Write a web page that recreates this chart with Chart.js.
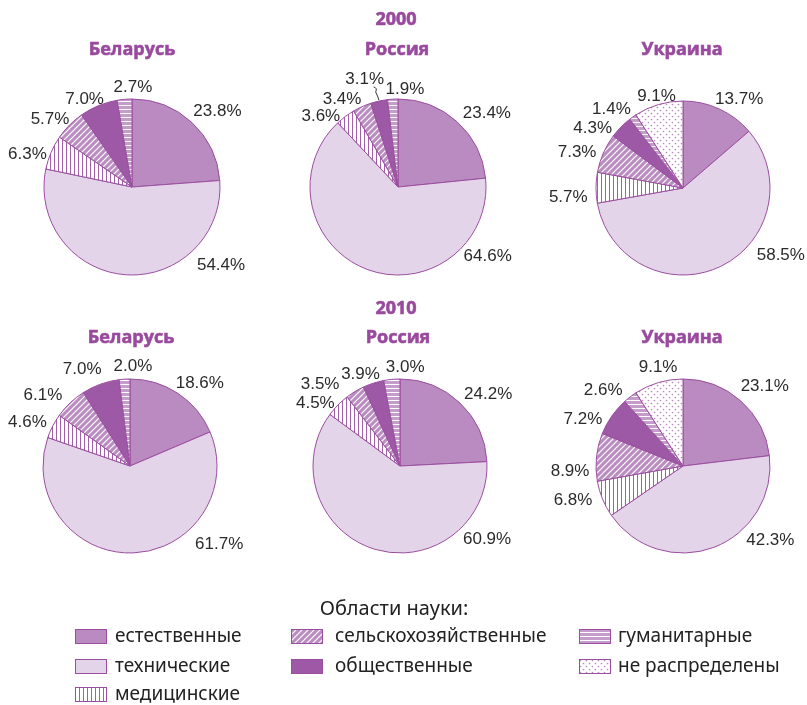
<!DOCTYPE html>
<html>
<head>
<meta charset="utf-8">
<script src="https://cdn.jsdelivr.net/npm/chart.js@4"></script>
<style>
  body { margin: 0; background: #fff; overflow: hidden; }
  #page { position: relative; width: 807px; height: 705px; }
  .box { position: absolute; }
  .ttl { position: absolute; transform: translate(-50%, -50%); font-family: "Open Sans", sans-serif; font-weight: 700; font-size: 18px; color: #9a4a9e; -webkit-text-stroke: 0.6px #9a4a9e; white-space: nowrap; }
  .leg { position: absolute; font-family: "Noto Sans", sans-serif; font-size: 19px; color: #222; white-space: nowrap; line-height: 1; }
  .sw { position: absolute; }
</style>
</head>
<body>
<div id="page"></div>
<script>
// Области науки
const categories = ['естественные', 'технические', 'медицинские', 'сельскохозяйственные', 'общественные', 'гуманитарные', 'не распределены'];
const years = ['2000', '2010'];
const countries = ['Беларусь', 'Россия', 'Украина'];

// доли, %
const belarus2000 = [23.8, 54.4, 6.3, 5.7, 7.0, 2.7];
const russia2000 = [23.4, 64.6, 3.6, 3.4, 3.1, 1.9];
const ukraine2000 = [13.7, 58.5, 5.7, 7.3, 4.3, 1.4, 9.1];
const belarus2010 = [18.6, 61.7, 4.6, 6.1, 7.0, 2.0];
const russia2010 = [24.2, 60.9, 4.5, 3.5, 3.9, 3.0];
const ukraine2010 = [23.1, 42.3, 6.8, 8.9, 7.2, 2.6, 9.1];

const purple = '#9b4da0';

function tile(w, h, draw) {
    const c = document.createElement('canvas');
    c.width = w; c.height = h;
    const g = c.getContext('2d');
    draw(g);
    return c;
}

const tiles = {
    vert: tile(4, 4, g => {
        g.fillStyle = '#fff'; g.fillRect(0, 0, 4, 4);
        g.fillStyle = '#a160a8'; g.fillRect(0, 0, 1, 4);
    }),
    diag: tile(6, 6, g => {
        g.fillStyle = '#bb8cc2'; g.fillRect(0, 0, 6, 6);
        g.strokeStyle = '#fff'; g.lineWidth = 1.2;
        g.beginPath();
        g.moveTo(-1, 7); g.lineTo(7, -1);
        g.moveTo(-4, 4); g.lineTo(4, -4);
        g.moveTo(2, 10); g.lineTo(10, 2);
        g.stroke();
    }),
    horiz: tile(4, 4, g => {
        g.fillStyle = '#fff'; g.fillRect(0, 0, 4, 4);
        g.fillStyle = '#c49dca'; g.fillRect(0, 0, 4, 3);
    }),
    dots: tile(6, 6, g => {
        g.fillStyle = '#fff'; g.fillRect(0, 0, 6, 6);
        g.fillStyle = '#bb88c1';
        g.beginPath(); g.arc(1.5, 1.5, 0.85, 0, Math.PI * 2); g.fill();
        g.beginPath(); g.arc(4.5, 4.5, 0.85, 0, Math.PI * 2); g.fill();
    })
};

function fills(ctx) {
    return [
        '#b98bc0',
        '#e4d4e9',
        ctx.createPattern(tiles.vert, 'repeat'),
        ctx.createPattern(tiles.diag, 'repeat'),
        '#9e59a6',
        ctx.createPattern(tiles.horiz, 'repeat'),
        ctx.createPattern(tiles.dots, 'repeat')
    ];
}

// расположение подписей: угол (от верха по часовой) и расстояние от центра
const pies = [
    { values: belarus2000, cx: 132, cy: 187, r: 88, ang: [48, 131, 288, 310, 332, 0.5], dist: [115, 118, 110, 107, 101, 101] },
    { values: russia2000, cx: 398, cy: 187, r: 88, ang: [50, 127.5, 312.7, 327.8, 343, 4], dist: [116, 113, 105, 105, 114, 99], leader: 4 },
    { values: ukraine2000, cx: 683, cy: 188, r: 87, ang: [32, 124, 266, 289, 304, 318, 344], dist: [106, 118, 115, 112, 109, 107, 96] },
    { values: belarus2010, cx: 130, cy: 466, r: 87, ang: [39.8, 130.9, 293.6, 309.6, 334, 1.7], dist: [109, 118, 112, 113, 109, 101] },
    { values: russia2010, cx: 400, cy: 466, r: 87, ang: [50.7, 129.6, 307, 316, 337, 3], dist: [114, 113, 106, 115, 101, 100] },
    { values: ukraine2010, cx: 683, cy: 466, r: 87, ang: [45.3, 130, 253, 268, 295.6, 314, 346], dist: [115, 114, 115, 113, 111, 111, 103] }
];

const page = document.getElementById('page');
const W = 300, H = 290;

const outsideLabels = {
    id: 'outsideLabels',
    afterDatasetsDraw(chart, args, opts) {
        const p = opts.pie;
        const c = chart.ctx;
        const cx = W / 2, cy = H / 2;
        c.save();
        c.font = '17px "Liberation Sans", Arial, sans-serif';
        c.fillStyle = '#2b2b2b';
        c.textAlign = 'center';
        c.textBaseline = 'middle';
        p.values.forEach((v, i) => {
            const a = p.ang[i] * Math.PI / 180;
            c.fillText(v.toFixed(1) + '%', cx + p.dist[i] * Math.sin(a), cy - p.dist[i] * Math.cos(a) + 1);
        });
        if (p.leader !== undefined) {
            // выноска к маленькому сектору
            const arc = chart.getDatasetMeta(0).data[p.leader];
            const mid = (arc.startAngle + arc.endAngle) / 2;
            const ex = cx + (p.r + 1) * Math.cos(mid), ey = cy + (p.r + 1) * Math.sin(mid);
            const a = p.ang[p.leader] * Math.PI / 180;
            const lx = cx + p.dist[p.leader] * Math.sin(a) + 9, ly = cy - p.dist[p.leader] * Math.cos(a) + 9;
            c.strokeStyle = '#333';
            c.lineWidth = 1;
            c.beginPath();
            c.moveTo(lx, ly);
            c.quadraticCurveTo(lx + 4, ly + 1, lx + 2, ly + 5);
            c.quadraticCurveTo(ex - 1, ey - 4, ex, ey);
            c.stroke();
        }
        c.restore();
    }
};

pies.forEach(p => {
    const box = document.createElement('div');
    box.className = 'box';
    box.style.left = (p.cx - W / 2) + 'px';
    box.style.top = (p.cy - H / 2) + 'px';
    const cv = document.createElement('canvas');
    cv.width = W; cv.height = H;
    box.appendChild(cv);
    page.appendChild(box);
    const ctx = cv.getContext('2d');
    new Chart(ctx, {
        type: 'pie',
        data: {
            labels: categories.slice(0, p.values.length),
            datasets: [{
                data: p.values,
                backgroundColor: fills(ctx).slice(0, p.values.length),
                borderColor: purple,
                borderWidth: 1,
                hoverOffset: 0
            }]
        },
        options: {
            responsive: false,
            animation: false,
            radius: p.r,
            layout: { padding: 0 },
            events: [],
            plugins: {
                legend: { display: false },
                tooltip: { enabled: false },
                outsideLabels: { pie: p }
            }
        },
        plugins: [outsideLabels]
    });
});

// заголовки
function addText(cls, text, x, y) {
    const d = document.createElement('div');
    d.className = cls;
    d.textContent = text;
    d.style.left = x + 'px';
    d.style.top = y + 'px';
    page.appendChild(d);
    return d;
}
addText('ttl', years[0], 396, 18);
addText('ttl', years[1], 396, 307);
[[132, 48], [397, 48], [682, 48]].forEach((pos, i) => addText('ttl', countries[i], pos[0], pos[1]));
[[131, 336], [398, 336], [682, 336]].forEach((pos, i) => addText('ttl', countries[i], pos[0], pos[1]));

// легенда
const legTitle = addText('leg', 'Области науки:', 394, 608);
legTitle.style.fontSize = '20px';
legTitle.style.transform = 'translate(-50%, -50%)';

const legendSlots = [[75, 636], [75, 666], [75, 694], [291, 636], [291, 666], [579, 636], [579, 666]];
const textX = [115, 115, 115, 335, 335, 618, 618];
categories.forEach((name, i) => {
    const sw = document.createElement('canvas');
    sw.width = 32; sw.height = 15;
    sw.className = 'sw';
    sw.style.left = legendSlots[i][0] + 'px';
    sw.style.top = (legendSlots[i][1] - 7) + 'px';
    page.appendChild(sw);
    const g = sw.getContext('2d');
    g.fillStyle = fills(g)[i];
    g.fillRect(0, 0, 32, 15);
    g.strokeStyle = purple;
    g.lineWidth = 1;
    g.strokeRect(0.5, 0.5, 31, 14);
    const t = addText('leg', name, textX[i], legendSlots[i][1]);
    t.style.transform = 'translateY(-55%)';
});
</script>
</body>
</html>
